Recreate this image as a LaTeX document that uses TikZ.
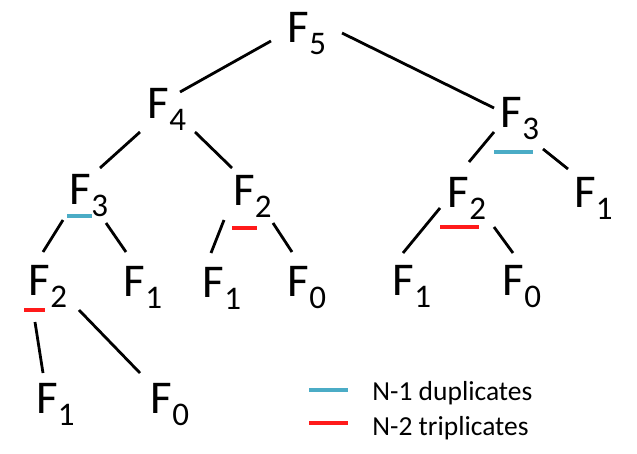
\documentclass[tikz,border=0pt]{standalone}
\usepackage{fontspec}
\setmainfont{Carlito}
\usepackage{tikz}
\usepackage{xcolor}
\definecolor{dupblue}{HTML}{4BACC6}
\definecolor{tripred}{HTML}{FF1A1A}
\newcommand{\Fib}[1]{F\rlap{\smash{\raisebox{-12pt}{\fontsize{33}{33}\selectfont #1}}}}

\begin{document}
\begin{tikzpicture}[x=1pt,y=-1pt,line width=2.8pt]
\tikzstyle{fib}=[inner sep=0pt,font=\fontsize{47}{50}\selectfont]
\tikzstyle{dup}=[dupblue,line width=3.2pt]
\tikzstyle{trip}=[tripred,line width=3.2pt]
\tikzstyle{legend}=[inner sep=0pt,anchor=base west,font=\fontsize{27.5}{30}\selectfont]
\useasboundingbox (0,0) rectangle (637,453);
  \node[fib] (f5) at (298.5,27) {\Fib{5}};
  \node[fib] (f4) at (158.5,103) {\Fib{4}};
  \node[fib] (f3r) at (511.5,112) {\Fib{3}};
  \node[fib] (f3l) at (80.5,189) {\Fib{3}};
  \node[fib] (f2m) at (244,190) {\Fib{2}};
  \node[fib] (f2r) at (458.5,192) {\Fib{2}};
  \node[fib] (f1r) at (585,192) {\Fib{1}};
  \node[fib] (f2l) at (39.5,280) {\Fib{2}};
  \node[fib] (f1a) at (134.5,281) {\Fib{1}};
  \node[fib] (f1m) at (213.5,282) {\Fib{1}};
  \node[fib] (f0m) at (298.5,281) {\Fib{0}};
  \node[fib] (f1rr) at (403.5,280) {\Fib{1}};
  \node[fib] (f0rr) at (513.5,280) {\Fib{0}};
  \node[fib] (f1b) at (47,398) {\Fib{1}};
  \node[fib] (f0b) at (161.5,398) {\Fib{0}};
  \draw ([shift={(-27.5,14)}]f5.center)--([shift={(21.5,-11)}]f4.center);
  \draw ([shift={(43.5,6)}]f5.center)--([shift={(-17.5,-4)}]f3r.center);
  \draw ([shift={(-18.5,29)}]f4.center)--([shift={(19.5,-21)}]f3l.center);
  \draw ([shift={(36.5,29)}]f4.center)--([shift={(-12,-22)}]f2m.center);
  \draw ([shift={(-17.5,20)}]f3r.center)--([shift={(10.5,-30)}]f2r.center);
  \draw ([shift={(31.5,37)}]f3r.center)--([shift={(-17,-23)}]f1r.center);
  \draw ([shift={(-17.5,31)}]f3l.center)--([shift={(3.5,-28)}]f2l.center);
  \draw ([shift={(25.5,34)}]f3l.center)--([shift={(-8.5,-29)}]f1a.center);
  \draw ([shift={(-20,30)}]f2m.center)--([shift={(-2.5,-29)}]f1m.center);
  \draw ([shift={(29,33)}]f2m.center)--([shift={(-6.5,-29)}]f0m.center);
  \draw ([shift={(-18.5,16)}]f2r.center)--([shift={(-0.5,-27)}]f1rr.center);
  \draw ([shift={(35.5,35)}]f2r.center)--([shift={(-0.5,-27)}]f0rr.center);
  \draw ([shift={(-4.5,42)}]f2l.center)--([shift={(-4,-25)}]f1b.center);
  \draw ([shift={(39.5,30)}]f2l.center)--([shift={(-21.5,-25)}]f0b.center);
  \draw[dup] ([shift={(-17.5,40)}]f3r.center)--++(39,0);
  \draw[dup] ([shift={(-13.5,27)}]f3l.center)--++(25,0);
  \draw[trip] ([shift={(-12,38)}]f2m.center)--++(25,0);
  \draw[trip] ([shift={(-18.5,35)}]f2r.center)--++(39,0);
  \draw[trip] ([shift={(-15.5,30)}]f2l.center)--++(21,0);
  \node[legend] (dupl) at (371,400) {N-1 duplicates};
  \node[legend] (tripl) at (371,435) {N-2 triplicates};
  \draw[dup] ([shift={(-62,-10)}]dupl.base west)--++(39,0);
  \draw[trip] ([shift={(-62,-12)}]tripl.base west)--++(39,0);
\end{tikzpicture}
\end{document}
